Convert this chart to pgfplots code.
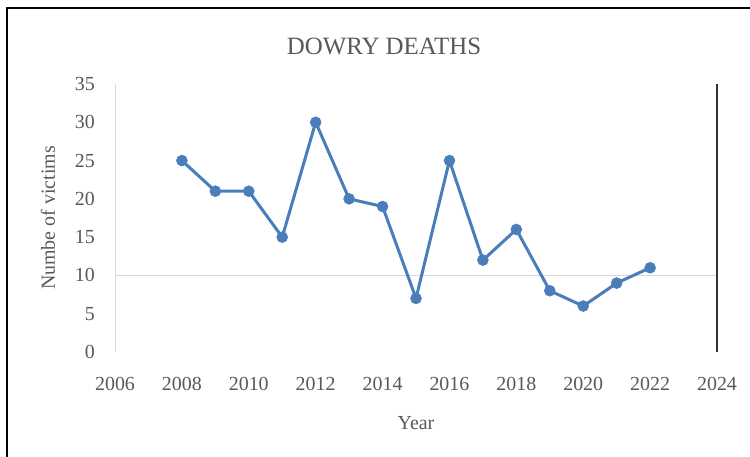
\documentclass[border=0pt]{standalone}
\usepackage{pgfplots}
\pgfplotsset{compat=1.18}
\usepackage{fontspec}
\setmainfont{Liberation Serif}
\definecolor{txt}{HTML}{595959}
\definecolor{ser}{HTML}{4A7EBB}
\definecolor{grd}{HTML}{D9D9D9}
\begin{document}
\begin{tikzpicture}[x=1bp,y=1bp]
\path[use as bounding box] (0,0) rectangle (750,457);
\fill[white] (0,0) rectangle (750,457);
\draw[black, line width=2.5bp] (7,0) -- (7,449) -- (750,449);
\node[text=txt, font=\fontsize{25}{30}\selectfont, anchor=center] at (384,411) {DOWRY DEATHS};
\begin{axis}[
  at={(115bp,105bp)}, anchor=south west,
  scale only axis, width=602bp, height=268bp,
  xmin=2006, xmax=2024, ymin=0, ymax=35,
  xtick={2006,2008,...,2024}, ytick={0,5,...,35},
  axis line style={draw=none},
  major tick length=0pt,
  /pgf/number format/assume math mode=true,
  /pgf/number format/1000 sep={},
  tick label style={text=txt, font=\fontsize{20}{24}\selectfont, inner sep=0pt},
  yticklabel style={xshift=-20bp},
  xticklabel style={yshift=-25bp},
  xlabel={Year}, ylabel={Numbe of victims},
  every axis x label/.style={at={(axis description cs:0.5,-0.265)}, anchor=center, text=txt, font=\fontsize{20}{24}\selectfont},
  every axis y label/.style={at={(axis description cs:-0.1113,0.5)}, rotate=90, anchor=center, text=txt, font=\fontsize{20}{24}\selectfont},
  clip=false,
]
\draw[grd, line width=1bp] (axis cs:2006,0) -- (axis cs:2006,35);
\draw[grd, line width=1bp] (axis cs:2006,10) -- (axis cs:2024,10);
\draw[black!80, line width=1.2bp] (axis cs:2024,0) -- (axis cs:2024,35);
\addplot[ser, line width=3bp, mark=*, mark size=5.5bp, mark options={fill=ser, draw=ser, line width=0.5bp}]
coordinates {
(2008,25) (2009,21) (2010,21) (2011,15) (2012,30) (2013,20) (2014,19)
(2015,7) (2016,25) (2017,12) (2018,16) (2019,8) (2020,6) (2021,9) (2022,11)
};
\end{axis}
\end{tikzpicture}
\end{document}
